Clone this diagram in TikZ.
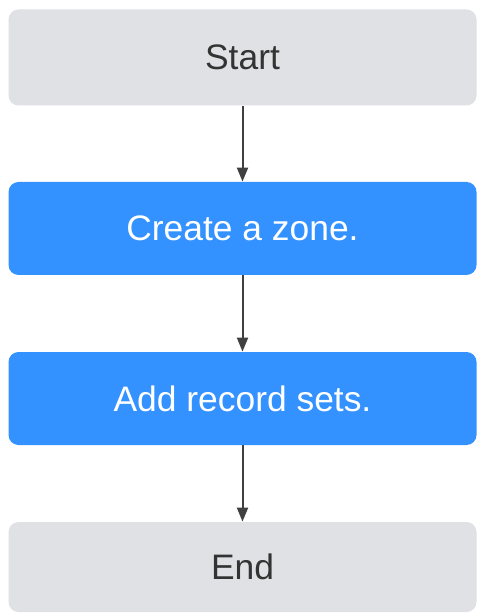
\documentclass[tikz,border=0pt]{standalone}
\usepackage{fontspec}
\setmainfont{Liberation Sans}
\usetikzlibrary{arrows.meta}

\definecolor{stepgray}{HTML}{DFE1E5}
\definecolor{stepblue}{HTML}{3392FF}
\definecolor{textgray}{HTML}{333333}
\definecolor{arrowgray}{HTML}{404040}

\begin{document}
\begin{tikzpicture}[%
  x=0.5pt, y=-0.5pt,
  box/.style = {rounded corners=5pt, minimum width=234pt, inner sep=0pt,
                font=\fontsize{17.7}{21}\selectfont},
  endbox/.style = {box, fill=stepgray, text=textgray},
  actbox/.style = {box, fill=stepblue, text=white},
  line/.style = {draw=arrowgray, line width=1pt},
  >={Triangle[length=7pt, width=5.5pt]},
]
  \useasboundingbox (0,0) rectangle (477,613);

  \node[endbox, minimum height=48pt]   (start)  at (242.5, 57.5)  {Start};
  \node[actbox, minimum height=46.5pt] (zone)   at (242.5, 228.5) {Create a zone.};
  \node[actbox, minimum height=46.5pt] (record) at (242.5, 398.5) {Add record sets.};
  \node[endbox, minimum height=45pt]   (end)    at (242.5, 567)   {End};

  \draw[line, ->, arrowgray] (start) -- (zone);
  \draw[line, ->, arrowgray] (zone) -- (record);
  \draw[line, ->, arrowgray] (record) -- (end);

\end{tikzpicture}
\end{document}
